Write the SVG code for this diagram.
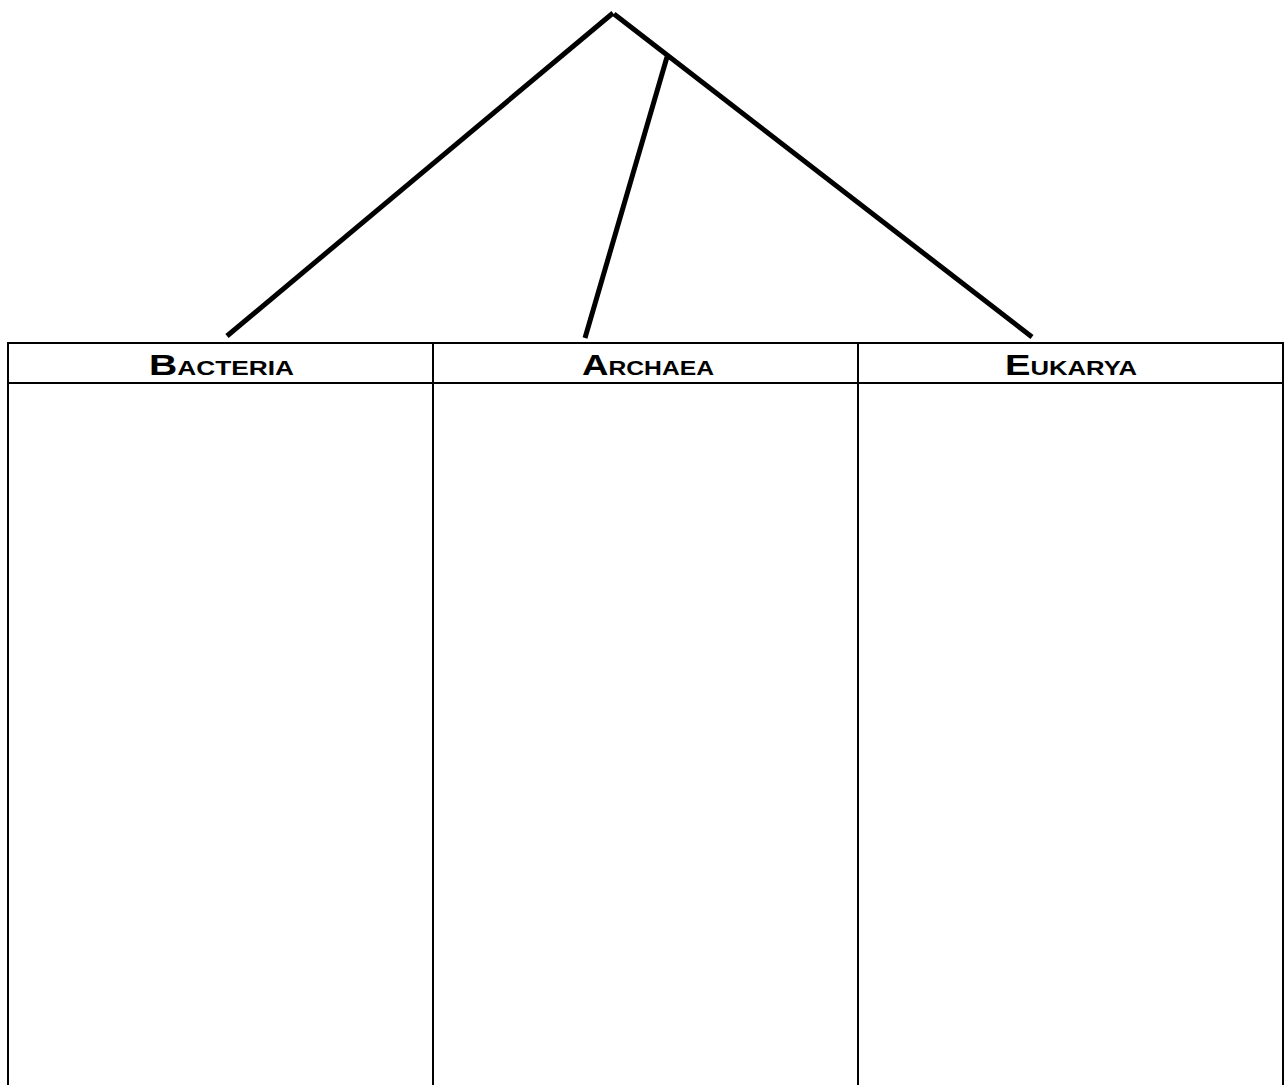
<svg xmlns="http://www.w3.org/2000/svg" width="1288" height="1085" viewBox="0 0 1288 1085">
<style>
.tbl{stroke:#000;stroke-width:2;fill:none}
.br{stroke:#000;stroke-width:5;fill:none}
.h{font-family:"Liberation Sans",Arial,sans-serif;font-weight:bold;fill:#000}
.big{font-size:29px}
.sm{font-size:19.5px}
</style>
<rect width="1288" height="1085" fill="#fff"/>
<g id="connectors">
<line class="br" x1="613" y1="13" x2="227" y2="336"/>
<line class="br" x1="614" y1="14" x2="1032" y2="337"/>
<line class="br" x1="667" y1="57" x2="585" y2="338"/>
</g>
<g id="table">
<path class="tbl" d="M8,1085 V343 H1283 V1085 M8,383 H1283 M433,343 V1085 M858,343 V1085"/>
</g>
<g id="bacteria"><text class="h" x="149" y="375" textLength="145" lengthAdjust="spacingAndGlyphs"><tspan class="big">B</tspan><tspan class="sm">ACTERIA</tspan></text></g>
<g id="archaea"><text class="h" x="582" y="375" textLength="132" lengthAdjust="spacingAndGlyphs"><tspan class="big">A</tspan><tspan class="sm">RCHAEA</tspan></text></g>
<g id="eukarya"><text class="h" x="1005" y="375" textLength="132" lengthAdjust="spacingAndGlyphs"><tspan class="big">E</tspan><tspan class="sm">UKARYA</tspan></text></g>
</svg>
